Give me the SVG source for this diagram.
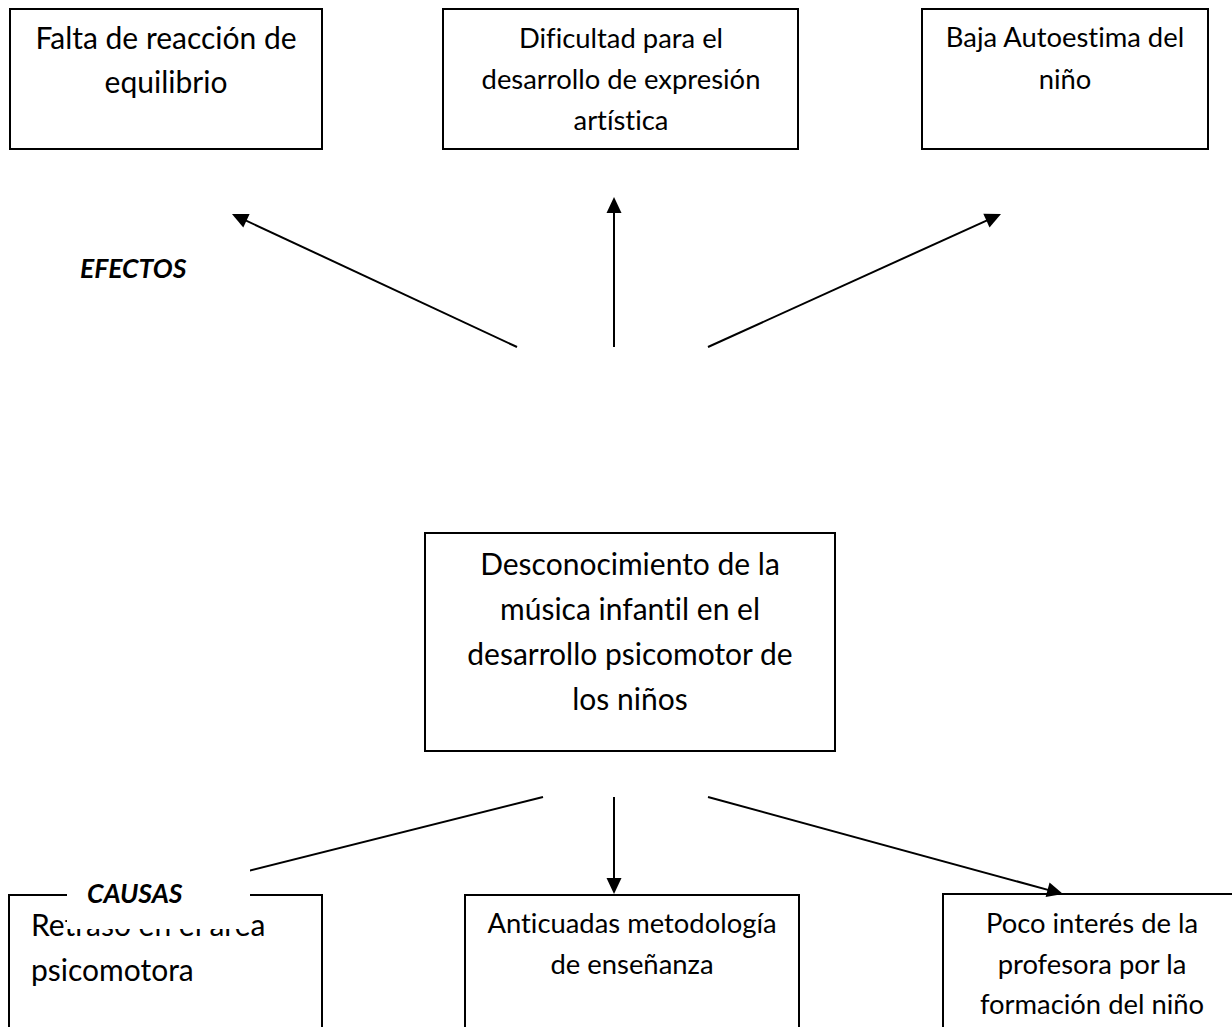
<svg xmlns="http://www.w3.org/2000/svg" width="1232" height="1027" viewBox="0 0 1232 1027">
<style>
.box{fill:#fff;stroke:#000;stroke-width:2}
.t{font-family:Lato,"Open Sans","Liberation Sans",sans-serif;fill:#000;text-anchor:middle;font-variant-ligatures:none}
.l{font-size:30px}
.s{font-size:27.4px}
.lab{font-family:Lato,"Open Sans","Liberation Sans",sans-serif;font-weight:bold;font-style:italic;font-size:26.5px;fill:#000}
.c{fill:none;stroke:#000;stroke-width:2}
</style>
<defs>
<marker id="ah" markerUnits="userSpaceOnUse" markerWidth="16" markerHeight="16" refX="8" refY="7.5" orient="auto" overflow="visible">
<path d="M0,0 L16,7.5 L0,15 Z" fill="#000"/>
</marker>
</defs>
<rect width="1232" height="1027" fill="#fff"/>
<g id="e1">
<rect class="box" x="10" y="9" width="312" height="140"/>
<text class="t l" x="166" y="49">Falta de reacción de</text>
<text class="t l" x="166" y="93">equilibrio</text>
</g>
<g id="e2">
<rect class="box" x="443" y="9" width="355" height="140"/>
<text class="t s" x="621" y="48">Dificultad para el</text>
<text class="t s" x="621" y="89">desarrollo de expresión</text>
<text class="t s" x="621" y="130">artística</text>
</g>
<g id="e3">
<rect class="box" x="922" y="9" width="286" height="140"/>
<text class="t s" x="1065" y="47">Baja Autoestima del</text>
<text class="t s" x="1065" y="89">niño</text>
</g>
<g id="problem">
<rect class="box" x="425" y="533" width="410" height="218"/>
<text class="t l" x="630" y="575">Desconocimiento de la</text>
<text class="t l" x="630" y="620">música infantil en el</text>
<text class="t l" x="630" y="665">desarrollo psicomotor de</text>
<text class="t l" x="630" y="710">los niños</text>
</g>
<g id="c1">
<rect class="box" x="9" y="895" width="313" height="150"/>
<text class="t l" x="31" y="936" style="text-anchor:start">Retraso en el área</text>
<text class="t l" x="31" y="981" style="text-anchor:start">psicomotora</text>
</g>
<g id="c2">
<rect class="box" x="465" y="895" width="334" height="150"/>
<text class="t s" x="632" y="933">Anticuadas metodología</text>
<text class="t s" x="632" y="974">de enseñanza</text>
</g>
<g id="c3">
<rect class="box" x="943" y="894" width="300" height="150"/>
<text class="t s" x="1092" y="933">Poco interés de la</text>
<text class="t s" x="1092" y="974">profesora por la</text>
<text class="t s" x="1092" y="1014">formación del niño</text>
</g>
<g id="connectors">
<line class="c" x1="517" y1="347" x2="239.2" y2="217.4" marker-end="url(#ah)"/>
<line class="c" x1="614" y1="347" x2="614" y2="205" marker-end="url(#ah)"/>
<line class="c" x1="708" y1="347" x2="993.7" y2="217.3" marker-end="url(#ah)"/>
<line class="c" x1="543" y1="797" x2="164.8" y2="892" marker-end="url(#ah)"/>
<line class="c" x1="614" y1="797" x2="614" y2="886" marker-end="url(#ah)"/>
<line class="c" x1="708" y1="797" x2="1055.3" y2="891.9" marker-end="url(#ah)"/>
</g>
<g id="efectos">
<text class="lab" x="80" y="278">EFECTOS</text>
</g>
<g id="causas">
<rect x="67" y="860" width="183" height="69" fill="#fff"/>
<text class="lab" x="87" y="903">CAUSAS</text>
</g>
</svg>
